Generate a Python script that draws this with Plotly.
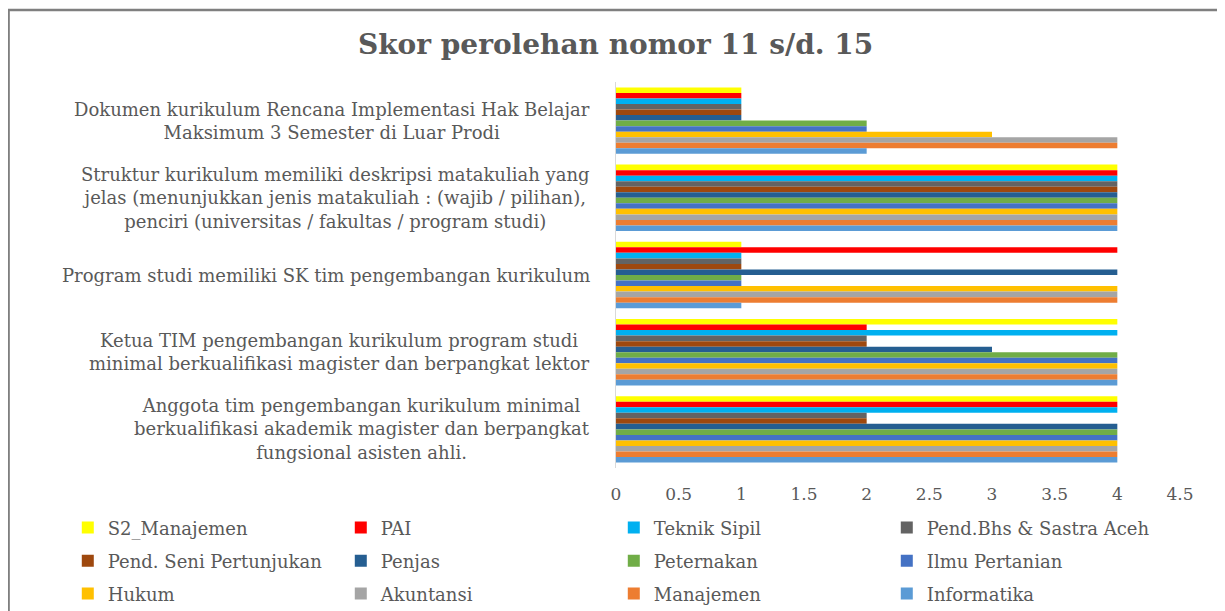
import plotly.graph_objects as go

# kategori (urutan dari atas ke bawah)
categories = [
    "Dokumen kurikulum Rencana Implementasi Hak Belajar<br>Maksimum 3 Semester di Luar Prodi",
    "Struktur kurikulum memiliki deskripsi matakuliah yang<br>jelas (menunjukkan jenis matakuliah : (wajib / pilihan),<br>penciri (universitas / fakultas / program studi)",
    "Program studi memiliki SK tim pengembangan kurikulum",
    "Ketua TIM pengembangan kurikulum program studi<br>minimal berkualifikasi magister dan berpangkat lektor",
    "Anggota tim pengembangan kurikulum minimal<br>berkualifikasi akademik magister dan berpangkat<br>fungsional asisten ahli.",
]

series_names = ["S2_Manajemen", "PAI", "Teknik Sipil", "Pend.Bhs & Sastra Aceh",
                "Pend. Seni Pertunjukan", "Penjas", "Peternakan", "Ilmu Pertanian",
                "Hukum", "Akuntansi", "Manajemen", "Informatika"]

s2_manajemen = [1, 4, 1, 4, 4]
pai = [1, 4, 4, 2, 4]
teknik_sipil = [1, 4, 1, 4, 4]
pend_bhs_aceh = [1, 4, 1, 2, 2]
pend_seni = [1, 4, 1, 2, 2]
penjas = [1, 4, 4, 3, 4]
peternakan = [2, 4, 1, 4, 4]
ilmu_pertanian = [2, 4, 1, 4, 4]
hukum = [3, 4, 4, 4, 4]
akuntansi = [4, 4, 4, 4, 4]
manajemen = [4, 4, 4, 4, 4]
informatika = [2, 4, 1, 4, 4]

x_ticks = [0, 0.5, 1, 1.5, 2, 2.5, 3, 3.5, 4, 4.5]

colors = ["#FFFF00", "#FF0000", "#00B0F0", "#636363", "#9E480E", "#255E91",
          "#70AD47", "#4472C4", "#FFC000", "#A5A5A5", "#ED7D31", "#5B9BD5"]

values = [s2_manajemen, pai, teknik_sipil, pend_bhs_aceh, pend_seni, penjas,
          peternakan, ilmu_pertanian, hukum, akuntansi, manajemen, informatika]

FONT = "DejaVu Serif"
TXT = "#595959"

fig = go.Figure()
for i, (name, vals) in enumerate(zip(series_names, values)):
    row = i // 4
    fig.add_trace(go.Bar(
        y=categories, x=vals, name=name, orientation="h",
        marker=dict(color=colors[i], line=dict(width=0)),
        legend="legend" if row == 0 else f"legend{row + 1}",
    ))

# label kategori, rata tengah
for cat in categories:
    fig.add_annotation(x=-0.043, xref="paper", y=cat, yref="y", text=cat,
                       showarrow=False, xanchor="right", yanchor="middle",
                       align="center", font=dict(family=FONT, size=18, color=TXT))

legend_style = dict(orientation="h", xanchor="left", yanchor="middle",
                    x=-0.972, entrywidth=228, bgcolor="rgba(0,0,0,0)",
                    font=dict(family=FONT, size=18, color=TXT))

fig.update_layout(
    width=1225, height=640,
    margin=dict(l=608, r=53, t=74, b=180),
    paper_bgcolor="white", plot_bgcolor="white",
    barmode="group", bargap=0.14, bargroupgap=0,
    title=dict(text="<b>Skor perolehan nomor 11 s/d. 15</b>", x=0.496, xref="container",
               xanchor="center", y=1 - 36 / 640, yanchor="middle",
               font=dict(family=FONT, size=28, color=TXT)),
    xaxis=dict(range=[0, 4.5], tickvals=x_ticks, showgrid=False, zeroline=False,
               showline=False, ticks="", ticklabelstandoff=14,
               tickfont=dict(family=FONT, size=17, color=TXT)),
    yaxis=dict(type="category", autorange="reversed", showticklabels=False,
               showline=True, linecolor="#D9D9D9", linewidth=1, ticks="", showgrid=False),
    legend=dict(legend_style, y=-0.155),
    legend2=dict(legend_style, y=-0.241),
    legend3=dict(legend_style, y=-0.326),
    shapes=[dict(type="rect", xref="paper", yref="paper",
                 x0=-1.077, x1=1.11, y0=-0.45, y1=1.1865,
                 line=dict(color="#7F7F7F", width=2.5), fillcolor="rgba(0,0,0,0)")],
)

fig.write_html("out.html")
